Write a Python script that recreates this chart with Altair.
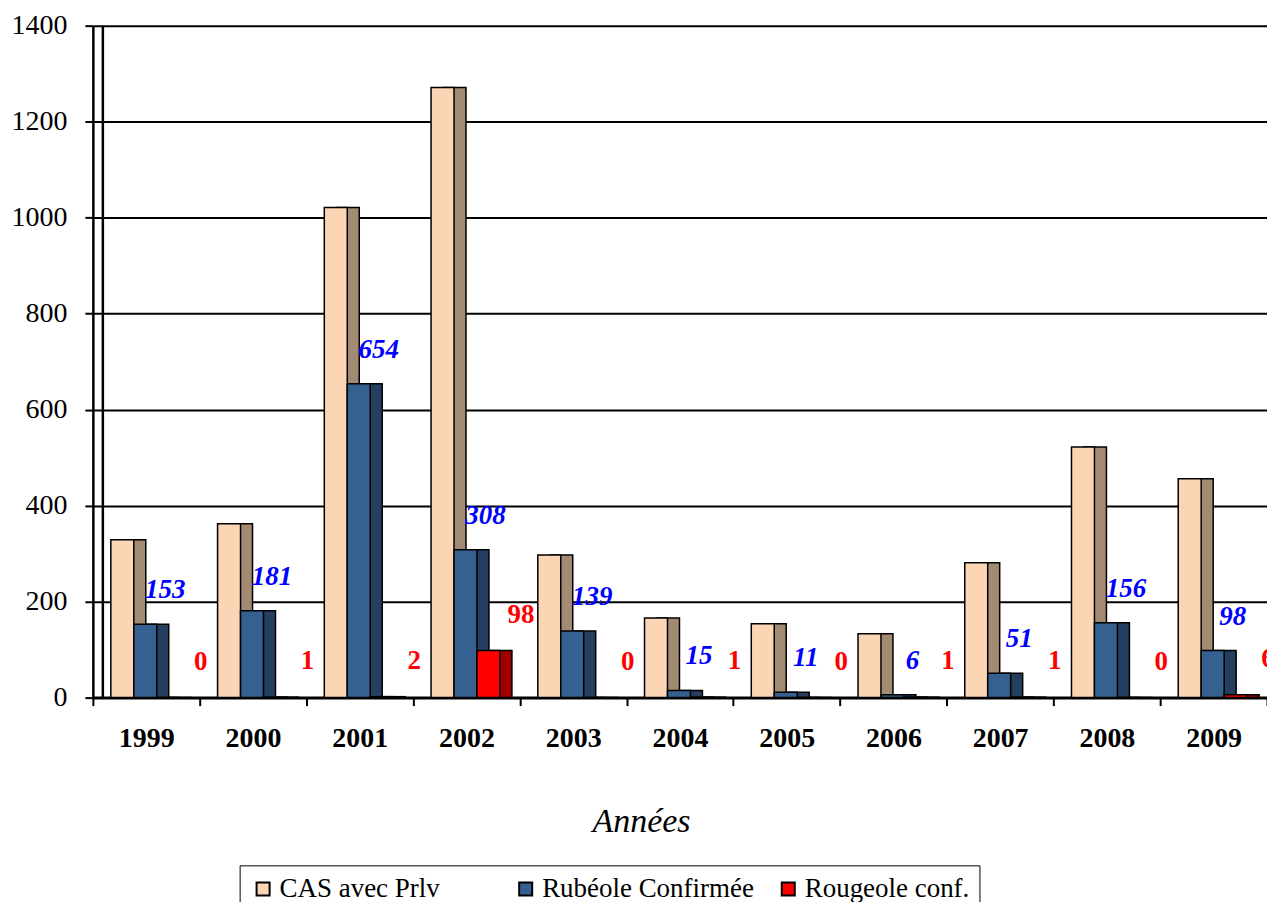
import altair as alt
import pandas as pd

years = ["1999", "2000", "2001", "2002", "2003", "2004", "2005", "2006", "2007", "2008", "2009"]
cas = [329, 362, 1021, 1271, 297, 166, 154, 133, 281, 522, 456]
rub = [153, 181, 654, 308, 139, 15, 11, 6, 51, 156, 98]
rou = [0, 1, 2, 98, 0, 1, 0, 1, 1, 0, 6]
series = ["CAS avec Prlv", "Rubéole Confirmée", "Rougeole conf."]
front_colors = ["#FCD5B5", "#35608F", "#FF0000"]
side_colors = ["#A28A73", "#243F60", "#A00000"]
y_ticks = [0, 200, 400, 600, 800, 1000, 1200, 1400]

rows = []
for i, yr in enumerate(years):
    for s, vals in zip(series, [cas, rub, rou]):
        rows.append({"year": yr, "series": s, "value": vals[i]})
df = pd.DataFrame(rows)

W, H = 1176, 673
FONT = "Liberation Serif"

x_enc = alt.X(
    "year:N", sort=years,
    scale=alt.Scale(paddingInner=0, paddingOuter=0),
    axis=alt.Axis(
        title="Années", titleFont=FONT, titleFontSize=34, titleFontStyle="italic",
        titleFontWeight="normal", titleColor="black", titleX=549, titleY=134,
        titleBaseline="alphabetic",
        labelFont=FONT, labelFontSize=28, labelFontWeight="bold", labelColor="black",
        labelAngle=0, labelPadding=19, tickBand="extent", tickSize=8, tickColor="black",
        tickWidth=2, domainColor="black", domainWidth=3, grid=False,
    ),
)
y_enc = alt.Y(
    "value:Q",
    scale=alt.Scale(domain=[0, 1400], nice=False),
    axis=alt.Axis(
        title=None, values=y_ticks, format="d", labelFont=FONT, labelFontSize=28,
        labelColor="black", labelPadding=18, tickSize=8, tickColor="black", tickWidth=2,
        domainColor="black", domainWidth=2.5, grid=True, gridColor="black", gridWidth=2,
    ),
)

front_off = alt.XOffset("series:N", sort=series,
                        scale=alt.Scale(domain=series, range=[18, 87], paddingInner=0, paddingOuter=0))
side_off = alt.XOffset("series:N", sort=series,
                       scale=alt.Scale(domain=series, range=[30, 99], paddingInner=0, paddingOuter=0))

base = alt.Chart(df)

sides = base.mark_bar(stroke="black", strokeWidth=1.5).encode(
    x=x_enc, y=y_enc, xOffset=side_off,
    fill=alt.Fill("series:N", sort=series,
                  scale=alt.Scale(domain=series, range=side_colors), legend=None),
)

fronts = base.mark_bar(stroke="black", strokeWidth=1.5).encode(
    x=x_enc, y=y_enc, xOffset=front_off,
    fill=alt.Fill("series:N", sort=series,
                  scale=alt.Scale(domain=series, range=front_colors),
                  legend=alt.Legend(
                      title=None, orient="none", legendX=147, legendY=841,
                      direction="horizontal", columns=3, gridAlign="all", columnPadding=20,
                      padding=10, strokeColor="black", fillColor="white",
                      labelFont=FONT, labelFontSize=27, labelColor="black", labelLimit=400,
                      labelOffset=3, symbolType="square", symbolSize=170,
                      symbolStrokeColor="black", symbolStrokeWidth=2,
                  )),
)

wall = alt.Chart(pd.DataFrame({"v": [0]})).mark_rule(color="black", strokeWidth=2.5).encode(
    x=alt.value(10), y=alt.value(0), y2=alt.value(H)
)

blue_lbl = base.transform_filter(alt.datum.series == series[1]).mark_text(
    dx=20, dy=-34, font=FONT, fontSize=27, fontWeight="bold", fontStyle="italic",
    color="#0000FF", baseline="middle", align="center",
).encode(x=x_enc, y=y_enc, xOffset=front_off, text="value:Q")

red_lbl = base.transform_filter(alt.datum.series == series[2]).mark_text(
    dx=21, dy=-36, font=FONT, fontSize=27, fontWeight="bold",
    color="#FF0000", baseline="middle", align="center",
).encode(x=x_enc, y=y_enc, xOffset=front_off, text="value:Q")

chart = alt.layer(wall, sides, fronts, blue_lbl, red_lbl).resolve_scale(
    xOffset="independent", fill="independent"
).properties(
    width=W, height=H,
    autosize=alt.AutoSizeParams(type="none"),
    padding={"left": 85, "top": 17, "right": 0, "bottom": 204},
).configure(font=FONT).configure_view(stroke=None)

chart.save("out.html", embed_options={"renderer": "svg", "actions": False})
